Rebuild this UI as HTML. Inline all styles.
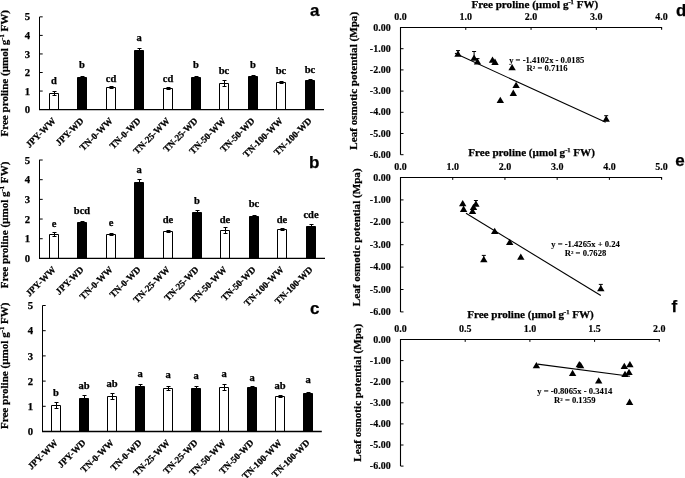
<!DOCTYPE html>
<html><head><meta charset="utf-8"><style>
html,body{margin:0;padding:0;background:#fff;}
body{width:685px;height:478px;overflow:hidden;}
svg{display:block;will-change:transform;}
text{font-family:"Liberation Serif", serif;font-weight:bold;fill:#000;stroke:#000;stroke-width:0.25px;}
.tl{font-size:10.7px;}
.bl{font-size:10.5px;}
.cl{font-size:9.3px;}
.yt{font-size:11.1px;}
.xt{font-size:11.1px;}
.st{font-size:10px;stroke-width:0.15px;}
.eq{font-size:8.6px;stroke-width:0.1px;}
.sup{font-size:6.5px;}
.sup2{font-size:5px;}
.pl{font-family:"Liberation Sans", sans-serif;font-size:17px;}
</style></head><body>
<svg width="685" height="478" viewBox="0 0 685 478">
<rect width="685" height="478" fill="#fff"/>
<path d="M49.50 109.60V93.50H58.50V109.60" fill="none" stroke="#000" stroke-width="1"/>
<path d="M54.50 91.50V95.50M52.50 91.50h4M52.50 95.50h4" stroke="#000" stroke-width="1" fill="none"/>
<text x="54.00" y="84.00" text-anchor="middle" class="bl">d</text>
<text transform="translate(56.30 121.40) rotate(-45)" text-anchor="end" class="cl">JPY-WW</text>
<rect x="77.50" y="77.50" width="9" height="32.10" fill="#000"/>
<path d="M77.50 109.60V77.50H86.50V109.60" fill="none" stroke="#000" stroke-width="1"/>
<path d="M82.50 76.50V78.50M80.50 76.50h4M80.50 78.50h4" stroke="#000" stroke-width="1" fill="none"/>
<text x="82.00" y="68.20" text-anchor="middle" class="bl">b</text>
<text transform="translate(84.30 121.40) rotate(-45)" text-anchor="end" class="cl">JPY-WD</text>
<path d="M106.50 109.60V87.50H115.50V109.60" fill="none" stroke="#000" stroke-width="1"/>
<path d="M111.50 86.50V88.50M109.50 86.50h4M109.50 88.50h4" stroke="#000" stroke-width="1" fill="none"/>
<text x="111.00" y="81.90" text-anchor="middle" class="bl">cd</text>
<text transform="translate(113.30 121.40) rotate(-45)" text-anchor="end" class="cl">TN-0-WW</text>
<rect x="134.50" y="50.50" width="9" height="59.10" fill="#000"/>
<path d="M134.50 109.60V50.50H143.50V109.60" fill="none" stroke="#000" stroke-width="1"/>
<path d="M139.50 48.50V52.50M137.50 48.50h4M137.50 52.50h4" stroke="#000" stroke-width="1" fill="none"/>
<text x="139.00" y="41.00" text-anchor="middle" class="bl">a</text>
<text transform="translate(141.30 121.40) rotate(-45)" text-anchor="end" class="cl">TN-0-WD</text>
<path d="M163.50 109.60V88.50H172.50V109.60" fill="none" stroke="#000" stroke-width="1"/>
<path d="M168.50 87.50V89.50M166.50 87.50h4M166.50 89.50h4" stroke="#000" stroke-width="1" fill="none"/>
<text x="168.00" y="81.90" text-anchor="middle" class="bl">cd</text>
<text transform="translate(170.30 121.40) rotate(-45)" text-anchor="end" class="cl">TN-25-WW</text>
<rect x="191.50" y="77.50" width="9" height="32.10" fill="#000"/>
<path d="M191.50 109.60V77.50H200.50V109.60" fill="none" stroke="#000" stroke-width="1"/>
<path d="M196.50 76.50V78.50M194.50 76.50h4M194.50 78.50h4" stroke="#000" stroke-width="1" fill="none"/>
<text x="196.00" y="68.00" text-anchor="middle" class="bl">b</text>
<text transform="translate(198.30 121.40) rotate(-45)" text-anchor="end" class="cl">TN-25-WD</text>
<path d="M219.50 109.60V83.50H228.50V109.60" fill="none" stroke="#000" stroke-width="1"/>
<path d="M224.50 80.50V86.50M222.50 80.50h4M222.50 86.50h4" stroke="#000" stroke-width="1" fill="none"/>
<text x="224.00" y="73.70" text-anchor="middle" class="bl">bc</text>
<text transform="translate(226.30 121.40) rotate(-45)" text-anchor="end" class="cl">TN-50-WW</text>
<rect x="248.50" y="76.50" width="9" height="33.10" fill="#000"/>
<path d="M248.50 109.60V76.50H257.50V109.60" fill="none" stroke="#000" stroke-width="1"/>
<path d="M253.50 75.50V77.50M251.50 75.50h4M251.50 77.50h4" stroke="#000" stroke-width="1" fill="none"/>
<text x="253.00" y="68.00" text-anchor="middle" class="bl">b</text>
<text transform="translate(255.30 121.40) rotate(-45)" text-anchor="end" class="cl">TN-50-WD</text>
<path d="M276.50 109.60V82.50H285.50V109.60" fill="none" stroke="#000" stroke-width="1"/>
<path d="M281.50 81.50V83.50M279.50 81.50h4M279.50 83.50h4" stroke="#000" stroke-width="1" fill="none"/>
<text x="281.00" y="73.70" text-anchor="middle" class="bl">bc</text>
<text transform="translate(283.30 121.40) rotate(-45)" text-anchor="end" class="cl">TN-100-WW</text>
<rect x="305.50" y="80.50" width="9" height="29.10" fill="#000"/>
<path d="M305.50 109.60V80.50H314.50V109.60" fill="none" stroke="#000" stroke-width="1"/>
<path d="M310.50 79.50V81.50M308.50 79.50h4M308.50 81.50h4" stroke="#000" stroke-width="1" fill="none"/>
<text x="310.00" y="72.70" text-anchor="middle" class="bl">bc</text>
<text transform="translate(312.30 121.40) rotate(-45)" text-anchor="end" class="cl">TN-100-WD</text>
<path d="M39.50 17.00V109.60" stroke="#000" stroke-width="1" fill="none"/>
<path d="M39.00 109.60H324.00" stroke="#000" stroke-width="1.3" fill="none"/>
<text x="30.20" y="113.20" text-anchor="end" class="tl">0</text>
<path d="M39.50 91.05h3.2" stroke="#000" stroke-width="1"/>
<text x="30.20" y="94.65" text-anchor="end" class="tl">1</text>
<path d="M39.50 72.50h3.2" stroke="#000" stroke-width="1"/>
<text x="30.20" y="76.10" text-anchor="end" class="tl">2</text>
<path d="M39.50 53.95h3.2" stroke="#000" stroke-width="1"/>
<text x="30.20" y="57.55" text-anchor="end" class="tl">3</text>
<path d="M39.50 35.40h3.2" stroke="#000" stroke-width="1"/>
<text x="30.20" y="39.00" text-anchor="end" class="tl">4</text>
<path d="M39.50 16.85h3.2" stroke="#000" stroke-width="1"/>
<text x="30.20" y="20.45" text-anchor="end" class="tl">5</text>
<text transform="translate(8 136.60) rotate(-90)" class="yt">Free proline (µmol g<tspan class="sup" dy="-4.3">-1</tspan><tspan dy="4.3"> FW)</tspan></text>
<text x="310" y="16.3" class="pl">a</text>
<path d="M49.50 258.40V234.50H58.50V258.40" fill="none" stroke="#000" stroke-width="1"/>
<path d="M54.50 232.50V236.50M52.50 232.50h4M52.50 236.50h4" stroke="#000" stroke-width="1" fill="none"/>
<text x="54.00" y="226.80" text-anchor="middle" class="bl">e</text>
<text transform="translate(56.30 270.20) rotate(-45)" text-anchor="end" class="cl">JPY-WW</text>
<rect x="77.50" y="222.50" width="9" height="35.90" fill="#000"/>
<path d="M77.50 258.40V222.50H86.50V258.40" fill="none" stroke="#000" stroke-width="1"/>
<path d="M82.50 221.50V223.50M80.50 221.50h4M80.50 223.50h4" stroke="#000" stroke-width="1" fill="none"/>
<text x="82.00" y="214.00" text-anchor="middle" class="bl">bcd</text>
<text transform="translate(84.30 270.20) rotate(-45)" text-anchor="end" class="cl">JPY-WD</text>
<path d="M106.50 258.40V234.50H115.50V258.40" fill="none" stroke="#000" stroke-width="1"/>
<path d="M111.50 233.50V235.50M109.50 233.50h4M109.50 235.50h4" stroke="#000" stroke-width="1" fill="none"/>
<text x="111.00" y="226.30" text-anchor="middle" class="bl">e</text>
<text transform="translate(113.30 270.20) rotate(-45)" text-anchor="end" class="cl">TN-0-WW</text>
<rect x="134.50" y="182.50" width="9" height="75.90" fill="#000"/>
<path d="M134.50 258.40V182.50H143.50V258.40" fill="none" stroke="#000" stroke-width="1"/>
<path d="M139.50 179.50V185.50M137.50 179.50h4M137.50 185.50h4" stroke="#000" stroke-width="1" fill="none"/>
<text x="139.00" y="173.40" text-anchor="middle" class="bl">a</text>
<text transform="translate(141.30 270.20) rotate(-45)" text-anchor="end" class="cl">TN-0-WD</text>
<path d="M163.50 258.40V231.50H172.50V258.40" fill="none" stroke="#000" stroke-width="1"/>
<path d="M168.50 230.50V232.50M166.50 230.50h4M166.50 232.50h4" stroke="#000" stroke-width="1" fill="none"/>
<text x="168.00" y="222.60" text-anchor="middle" class="bl">de</text>
<text transform="translate(170.30 270.20) rotate(-45)" text-anchor="end" class="cl">TN-25-WW</text>
<rect x="192.50" y="212.50" width="9" height="45.90" fill="#000"/>
<path d="M192.50 258.40V212.50H201.50V258.40" fill="none" stroke="#000" stroke-width="1"/>
<path d="M197.50 210.50V214.50M195.50 210.50h4M195.50 214.50h4" stroke="#000" stroke-width="1" fill="none"/>
<text x="197.00" y="204.10" text-anchor="middle" class="bl">b</text>
<text transform="translate(199.30 270.20) rotate(-45)" text-anchor="end" class="cl">TN-25-WD</text>
<path d="M220.50 258.40V230.50H229.50V258.40" fill="none" stroke="#000" stroke-width="1"/>
<path d="M225.50 227.50V233.50M223.50 227.50h4M223.50 233.50h4" stroke="#000" stroke-width="1" fill="none"/>
<text x="225.00" y="222.50" text-anchor="middle" class="bl">de</text>
<text transform="translate(227.30 270.20) rotate(-45)" text-anchor="end" class="cl">TN-50-WW</text>
<rect x="249.50" y="216.50" width="9" height="41.90" fill="#000"/>
<path d="M249.50 258.40V216.50H258.50V258.40" fill="none" stroke="#000" stroke-width="1"/>
<path d="M254.50 215.50V217.50M252.50 215.50h4M252.50 217.50h4" stroke="#000" stroke-width="1" fill="none"/>
<text x="254.00" y="206.60" text-anchor="middle" class="bl">bc</text>
<text transform="translate(256.30 270.20) rotate(-45)" text-anchor="end" class="cl">TN-50-WD</text>
<path d="M277.50 258.40V229.50H286.50V258.40" fill="none" stroke="#000" stroke-width="1"/>
<path d="M282.50 228.50V230.50M280.50 228.50h4M280.50 230.50h4" stroke="#000" stroke-width="1" fill="none"/>
<text x="282.00" y="222.50" text-anchor="middle" class="bl">de</text>
<text transform="translate(284.30 270.20) rotate(-45)" text-anchor="end" class="cl">TN-100-WW</text>
<rect x="306.50" y="226.50" width="9" height="31.90" fill="#000"/>
<path d="M306.50 258.40V226.50H315.50V258.40" fill="none" stroke="#000" stroke-width="1"/>
<path d="M311.50 224.50V228.50M309.50 224.50h4M309.50 228.50h4" stroke="#000" stroke-width="1" fill="none"/>
<text x="311.00" y="218.30" text-anchor="middle" class="bl">cde</text>
<text transform="translate(313.30 270.20) rotate(-45)" text-anchor="end" class="cl">TN-100-WD</text>
<path d="M39.50 159.80V258.40" stroke="#000" stroke-width="1" fill="none"/>
<path d="M39.00 258.40H325.00" stroke="#000" stroke-width="1.3" fill="none"/>
<text x="30.20" y="262.00" text-anchor="end" class="tl">0</text>
<path d="M39.50 238.72h3.2" stroke="#000" stroke-width="1"/>
<text x="30.20" y="242.32" text-anchor="end" class="tl">1</text>
<path d="M39.50 219.04h3.2" stroke="#000" stroke-width="1"/>
<text x="30.20" y="222.64" text-anchor="end" class="tl">2</text>
<path d="M39.50 199.36h3.2" stroke="#000" stroke-width="1"/>
<text x="30.20" y="202.96" text-anchor="end" class="tl">3</text>
<path d="M39.50 179.68h3.2" stroke="#000" stroke-width="1"/>
<text x="30.20" y="183.28" text-anchor="end" class="tl">4</text>
<path d="M39.50 160.00h3.2" stroke="#000" stroke-width="1"/>
<text x="30.20" y="163.60" text-anchor="end" class="tl">5</text>
<text transform="translate(8 288.20) rotate(-90)" class="yt">Free proline (µmol g<tspan class="sup" dy="-4.3">-1</tspan><tspan dy="4.3"> FW)</tspan></text>
<text x="309.0" y="167.9" class="pl">b</text>
<path d="M51.50 431.50V405.50H60.50V431.50" fill="none" stroke="#000" stroke-width="1"/>
<path d="M56.50 402.50V408.50M54.50 402.50h4M54.50 408.50h4" stroke="#000" stroke-width="1" fill="none"/>
<text x="56.00" y="396.00" text-anchor="middle" class="bl">b</text>
<text transform="translate(58.30 443.30) rotate(-45)" text-anchor="end" class="cl">JPY-WW</text>
<rect x="79.50" y="398.50" width="9" height="33.00" fill="#000"/>
<path d="M79.50 431.50V398.50H88.50V431.50" fill="none" stroke="#000" stroke-width="1"/>
<path d="M84.50 395.50V401.50M82.50 395.50h4M82.50 401.50h4" stroke="#000" stroke-width="1" fill="none"/>
<text x="84.00" y="389.00" text-anchor="middle" class="bl">ab</text>
<text transform="translate(86.30 443.30) rotate(-45)" text-anchor="end" class="cl">JPY-WD</text>
<path d="M107.50 431.50V396.50H116.50V431.50" fill="none" stroke="#000" stroke-width="1"/>
<path d="M112.50 393.50V399.50M110.50 393.50h4M110.50 399.50h4" stroke="#000" stroke-width="1" fill="none"/>
<text x="112.00" y="387.40" text-anchor="middle" class="bl">ab</text>
<text transform="translate(114.30 443.30) rotate(-45)" text-anchor="end" class="cl">TN-0-WW</text>
<rect x="135.50" y="386.50" width="9" height="45.00" fill="#000"/>
<path d="M135.50 431.50V386.50H144.50V431.50" fill="none" stroke="#000" stroke-width="1"/>
<path d="M140.50 384.50V388.50M138.50 384.50h4M138.50 388.50h4" stroke="#000" stroke-width="1" fill="none"/>
<text x="140.00" y="376.90" text-anchor="middle" class="bl">a</text>
<text transform="translate(142.30 443.30) rotate(-45)" text-anchor="end" class="cl">TN-0-WD</text>
<path d="M163.50 431.50V388.50H172.50V431.50" fill="none" stroke="#000" stroke-width="1"/>
<path d="M168.50 386.50V390.50M166.50 386.50h4M166.50 390.50h4" stroke="#000" stroke-width="1" fill="none"/>
<text x="168.00" y="378.00" text-anchor="middle" class="bl">a</text>
<text transform="translate(170.30 443.30) rotate(-45)" text-anchor="end" class="cl">TN-25-WW</text>
<rect x="191.50" y="388.50" width="9" height="43.00" fill="#000"/>
<path d="M191.50 431.50V388.50H200.50V431.50" fill="none" stroke="#000" stroke-width="1"/>
<path d="M196.50 386.50V390.50M194.50 386.50h4M194.50 390.50h4" stroke="#000" stroke-width="1" fill="none"/>
<text x="196.00" y="378.50" text-anchor="middle" class="bl">a</text>
<text transform="translate(198.30 443.30) rotate(-45)" text-anchor="end" class="cl">TN-25-WD</text>
<path d="M219.50 431.50V387.50H228.50V431.50" fill="none" stroke="#000" stroke-width="1"/>
<path d="M224.50 384.50V390.50M222.50 384.50h4M222.50 390.50h4" stroke="#000" stroke-width="1" fill="none"/>
<text x="224.00" y="376.80" text-anchor="middle" class="bl">a</text>
<text transform="translate(226.30 443.30) rotate(-45)" text-anchor="end" class="cl">TN-50-WW</text>
<rect x="247.50" y="387.50" width="9" height="44.00" fill="#000"/>
<path d="M247.50 431.50V387.50H256.50V431.50" fill="none" stroke="#000" stroke-width="1"/>
<path d="M252.50 386.50V388.50M250.50 386.50h4M250.50 388.50h4" stroke="#000" stroke-width="1" fill="none"/>
<text x="252.00" y="380.60" text-anchor="middle" class="bl">a</text>
<text transform="translate(254.30 443.30) rotate(-45)" text-anchor="end" class="cl">TN-50-WD</text>
<path d="M275.50 431.50V396.50H284.50V431.50" fill="none" stroke="#000" stroke-width="1"/>
<path d="M280.50 395.50V397.50M278.50 395.50h4M278.50 397.50h4" stroke="#000" stroke-width="1" fill="none"/>
<text x="280.00" y="388.50" text-anchor="middle" class="bl">ab</text>
<text transform="translate(282.30 443.30) rotate(-45)" text-anchor="end" class="cl">TN-100-WW</text>
<rect x="303.50" y="393.50" width="9" height="38.00" fill="#000"/>
<path d="M303.50 431.50V393.50H312.50V431.50" fill="none" stroke="#000" stroke-width="1"/>
<path d="M308.50 392.50V394.50M306.50 392.50h4M306.50 394.50h4" stroke="#000" stroke-width="1" fill="none"/>
<text x="308.00" y="382.60" text-anchor="middle" class="bl">a</text>
<text transform="translate(310.30 443.30) rotate(-45)" text-anchor="end" class="cl">TN-100-WD</text>
<path d="M42.50 305.50V431.50" stroke="#000" stroke-width="1" fill="none"/>
<path d="M42.00 431.50H321.80" stroke="#000" stroke-width="1.3" fill="none"/>
<text x="33.20" y="435.10" text-anchor="end" class="tl">0</text>
<path d="M42.50 406.30h3.2" stroke="#000" stroke-width="1"/>
<text x="33.20" y="409.90" text-anchor="end" class="tl">1</text>
<path d="M42.50 381.10h3.2" stroke="#000" stroke-width="1"/>
<text x="33.20" y="384.70" text-anchor="end" class="tl">2</text>
<path d="M42.50 355.90h3.2" stroke="#000" stroke-width="1"/>
<text x="33.20" y="359.50" text-anchor="end" class="tl">3</text>
<path d="M42.50 330.70h3.2" stroke="#000" stroke-width="1"/>
<text x="33.20" y="334.30" text-anchor="end" class="tl">4</text>
<path d="M42.50 305.50h3.2" stroke="#000" stroke-width="1"/>
<text x="33.20" y="309.10" text-anchor="end" class="tl">5</text>
<text transform="translate(8 429.10) rotate(-90)" class="yt">Free proline (µmol g<tspan class="sup" dy="-4.3">-1</tspan><tspan dy="4.3"> FW)</tspan></text>
<text x="310" y="314" class="pl">c</text>
<path d="M661.62 29.70V27.50H400.50V154.70" stroke="#000" stroke-width="1.1" fill="none"/>
<text x="400.50" y="20.20" text-anchor="middle" class="st">0.0</text>
<path d="M465.78 27.50v2.4" stroke="#000" stroke-width="1"/>
<text x="465.78" y="20.20" text-anchor="middle" class="st">1.0</text>
<path d="M531.06 27.50v2.4" stroke="#000" stroke-width="1"/>
<text x="531.06" y="20.20" text-anchor="middle" class="st">2.0</text>
<path d="M596.34 27.50v2.4" stroke="#000" stroke-width="1"/>
<text x="596.34" y="20.20" text-anchor="middle" class="st">3.0</text>
<text x="661.62" y="20.20" text-anchor="middle" class="st">4.0</text>
<text x="390.70" y="30.60" text-anchor="end" class="st">0.00</text>
<path d="M400.50 48.70h3" stroke="#000" stroke-width="1"/>
<text x="390.70" y="51.80" text-anchor="end" class="st">-1.00</text>
<path d="M400.50 69.90h3" stroke="#000" stroke-width="1"/>
<text x="390.70" y="73.00" text-anchor="end" class="st">-2.00</text>
<path d="M400.50 91.10h3" stroke="#000" stroke-width="1"/>
<text x="390.70" y="94.20" text-anchor="end" class="st">-3.00</text>
<path d="M400.50 112.30h3" stroke="#000" stroke-width="1"/>
<text x="390.70" y="115.40" text-anchor="end" class="st">-4.00</text>
<path d="M400.50 133.50h3" stroke="#000" stroke-width="1"/>
<text x="390.70" y="136.60" text-anchor="end" class="st">-5.00</text>
<path d="M400.50 154.70h3" stroke="#000" stroke-width="1"/>
<text x="390.70" y="157.80" text-anchor="end" class="st">-6.00</text>
<path d="M455.00 53.30L605.70 122.30" stroke="#000" stroke-width="1.1"/>
<path d="M458.00 50.60V53.60M456.00 50.60h4" stroke="#000" stroke-width="1" fill="none"/>
<path d="M454.30 56.80L458.00 50.50L461.70 56.80Z" fill="#000"/>
<path d="M474.10 51.50V57.60M472.10 51.50h4" stroke="#000" stroke-width="1" fill="none"/>
<path d="M470.40 60.80L474.10 54.50L477.80 60.80Z" fill="#000"/>
<path d="M477.50 58.60V61.40M475.50 58.60h4" stroke="#000" stroke-width="1" fill="none"/>
<path d="M473.80 64.60L477.50 58.30L481.20 64.60Z" fill="#000"/>
<path d="M488.80 62.80L492.50 56.50L496.20 62.80Z" fill="#000"/>
<path d="M491.30 64.90L495.00 58.60L498.70 64.90Z" fill="#000"/>
<path d="M508.40 70.20L512.10 63.90L515.80 70.20Z" fill="#000"/>
<path d="M512.40 88.00L516.10 81.70L519.80 88.00Z" fill="#000"/>
<path d="M509.60 95.90L513.30 89.60L517.00 95.90Z" fill="#000"/>
<path d="M496.60 103.00L500.30 96.70L504.00 103.00Z" fill="#000"/>
<path d="M606.20 115.70V118.50M604.20 115.70h4" stroke="#000" stroke-width="1" fill="none"/>
<path d="M602.50 121.70L606.20 115.40L609.90 121.70Z" fill="#000"/>
<text x="546.7" y="62.7" text-anchor="middle" class="eq">y = -1.4102x - 0.0185</text>
<text x="547.1" y="70.6" text-anchor="middle" class="eq">R<tspan class="sup2" dy="-2">2</tspan><tspan dy="2"> = 0.7116</tspan></text>
<text x="534.90" y="8.3" text-anchor="middle" class="xt">Free proline (µmol g<tspan class="sup" dy="-4">-1</tspan><tspan dy="4"> FW)</tspan></text>
<text transform="translate(356.8 11.9) rotate(-90)" text-anchor="end" class="xt">Leaf osmotic potential (Mpa)</text>
<text x="676.0" y="16.2" class="pl">d</text>
<path d="M661.60 179.70V177.50H400.50V311.90" stroke="#000" stroke-width="1.1" fill="none"/>
<text x="400.50" y="170.20" text-anchor="middle" class="st">0.0</text>
<path d="M452.72 177.50v2.4" stroke="#000" stroke-width="1"/>
<text x="452.72" y="170.20" text-anchor="middle" class="st">1.0</text>
<path d="M504.94 177.50v2.4" stroke="#000" stroke-width="1"/>
<text x="504.94" y="170.20" text-anchor="middle" class="st">2.0</text>
<path d="M557.16 177.50v2.4" stroke="#000" stroke-width="1"/>
<text x="557.16" y="170.20" text-anchor="middle" class="st">3.0</text>
<path d="M609.38 177.50v2.4" stroke="#000" stroke-width="1"/>
<text x="609.38" y="170.20" text-anchor="middle" class="st">4.0</text>
<text x="661.60" y="170.20" text-anchor="middle" class="st">5.0</text>
<text x="390.70" y="180.60" text-anchor="end" class="st">0.00</text>
<path d="M400.50 199.90h3" stroke="#000" stroke-width="1"/>
<text x="390.70" y="203.00" text-anchor="end" class="st">-1.00</text>
<path d="M400.50 222.30h3" stroke="#000" stroke-width="1"/>
<text x="390.70" y="225.40" text-anchor="end" class="st">-2.00</text>
<path d="M400.50 244.70h3" stroke="#000" stroke-width="1"/>
<text x="390.70" y="247.80" text-anchor="end" class="st">-3.00</text>
<path d="M400.50 267.10h3" stroke="#000" stroke-width="1"/>
<text x="390.70" y="270.20" text-anchor="end" class="st">-4.00</text>
<path d="M400.50 289.50h3" stroke="#000" stroke-width="1"/>
<text x="390.70" y="292.60" text-anchor="end" class="st">-5.00</text>
<path d="M400.50 311.90h3" stroke="#000" stroke-width="1"/>
<text x="390.70" y="315.00" text-anchor="end" class="st">-6.00</text>
<path d="M466.00 213.30L600.80 295.50" stroke="#000" stroke-width="1.1"/>
<path d="M459.00 206.20L462.70 199.90L466.40 206.20Z" fill="#000"/>
<path d="M459.90 211.90L463.60 205.60L467.30 211.90Z" fill="#000"/>
<path d="M475.90 200.50V203.50M473.90 200.50h4" stroke="#000" stroke-width="1" fill="none"/>
<path d="M472.20 206.70L475.90 200.40L479.60 206.70Z" fill="#000"/>
<path d="M469.80 210.10L473.50 203.80L477.20 210.10Z" fill="#000"/>
<path d="M468.80 214.00L472.50 207.70L476.20 214.00Z" fill="#000"/>
<path d="M491.00 234.10L494.70 227.80L498.40 234.10Z" fill="#000"/>
<path d="M506.00 245.00L509.70 238.70L513.40 245.00Z" fill="#000"/>
<path d="M517.10 259.80L520.80 253.50L524.50 259.80Z" fill="#000"/>
<path d="M483.80 255.40V259.00M481.80 255.40h4" stroke="#000" stroke-width="1" fill="none"/>
<path d="M480.10 262.20L483.80 255.90L487.50 262.20Z" fill="#000"/>
<path d="M600.80 284.40V288.10M598.80 284.40h4" stroke="#000" stroke-width="1" fill="none"/>
<path d="M597.10 291.30L600.80 285.00L604.50 291.30Z" fill="#000"/>
<text x="585.5" y="247.3" text-anchor="middle" class="eq">y = -1.4265x + 0.24</text>
<text x="585.5" y="255.5" text-anchor="middle" class="eq">R<tspan class="sup2" dy="-2">2</tspan><tspan dy="2"> = 0.7628</tspan></text>
<text x="531.60" y="156.2" text-anchor="middle" class="xt">Free proline (µmol g<tspan class="sup" dy="-4">-1</tspan><tspan dy="4"> FW)</tspan></text>
<text transform="translate(359.8 168.4) rotate(-90)" text-anchor="end" class="xt">Leaf osmotic potential (Mpa)</text>
<path d="M659.30 341.70V339.50H400.50V466.10" stroke="#000" stroke-width="1.1" fill="none"/>
<text x="400.50" y="332.20" text-anchor="middle" class="st">0.0</text>
<path d="M465.20 339.50v2.4" stroke="#000" stroke-width="1"/>
<text x="465.20" y="332.20" text-anchor="middle" class="st">0.5</text>
<path d="M529.90 339.50v2.4" stroke="#000" stroke-width="1"/>
<text x="529.90" y="332.20" text-anchor="middle" class="st">1.0</text>
<path d="M594.60 339.50v2.4" stroke="#000" stroke-width="1"/>
<text x="594.60" y="332.20" text-anchor="middle" class="st">1.5</text>
<text x="659.30" y="332.20" text-anchor="middle" class="st">2.0</text>
<text x="390.70" y="342.60" text-anchor="end" class="st">0.00</text>
<path d="M400.50 360.60h3" stroke="#000" stroke-width="1"/>
<text x="390.70" y="363.70" text-anchor="end" class="st">-1.00</text>
<path d="M400.50 381.70h3" stroke="#000" stroke-width="1"/>
<text x="390.70" y="384.80" text-anchor="end" class="st">-2.00</text>
<path d="M400.50 402.80h3" stroke="#000" stroke-width="1"/>
<text x="390.70" y="405.90" text-anchor="end" class="st">-3.00</text>
<path d="M400.50 423.90h3" stroke="#000" stroke-width="1"/>
<text x="390.70" y="427.00" text-anchor="end" class="st">-4.00</text>
<path d="M400.50 445.00h3" stroke="#000" stroke-width="1"/>
<text x="390.70" y="448.10" text-anchor="end" class="st">-5.00</text>
<path d="M400.50 466.10h3" stroke="#000" stroke-width="1"/>
<text x="390.70" y="469.20" text-anchor="end" class="st">-6.00</text>
<path d="M537.60 364.10L630.10 376.30" stroke="#000" stroke-width="1.1"/>
<path d="M532.70 368.30L536.40 362.00L540.10 368.30Z" fill="#000"/>
<path d="M575.60 367.20L579.30 360.90L583.00 367.20Z" fill="#000"/>
<path d="M576.90 368.30L580.60 362.00L584.30 368.30Z" fill="#000"/>
<path d="M568.90 376.00L572.60 369.70L576.30 376.00Z" fill="#000"/>
<path d="M595.00 383.50L598.70 377.20L602.40 383.50Z" fill="#000"/>
<path d="M620.60 369.00L624.30 362.70L628.00 369.00Z" fill="#000"/>
<path d="M626.20 367.30L629.90 361.00L633.60 367.30Z" fill="#000"/>
<path d="M625.30 375.00L629.00 368.70L632.70 375.00Z" fill="#000"/>
<path d="M621.30 377.00L625.00 370.70L628.70 377.00Z" fill="#000"/>
<path d="M625.90 404.90L629.60 398.60L633.30 404.90Z" fill="#000"/>
<text x="574.8" y="394.3" text-anchor="middle" class="eq">y = -0.8065x - 0.3414</text>
<text x="574.8" y="402.6" text-anchor="middle" class="eq">R<tspan class="sup2" dy="-2">2</tspan><tspan dy="2"> = 0.1359</tspan></text>
<text x="530.50" y="318.4" text-anchor="middle" class="xt">Free proline (µmol g<tspan class="sup" dy="-4">-1</tspan><tspan dy="4"> FW)</tspan></text>
<text transform="translate(360.8 323.9) rotate(-90)" text-anchor="end" class="xt">Leaf osmotic potential (Mpa)</text>
<text x="671.6" y="311.6" class="pl">f</text>
<text x="675.3" y="165.5" class="pl">e</text>
</svg>
</body></html>
